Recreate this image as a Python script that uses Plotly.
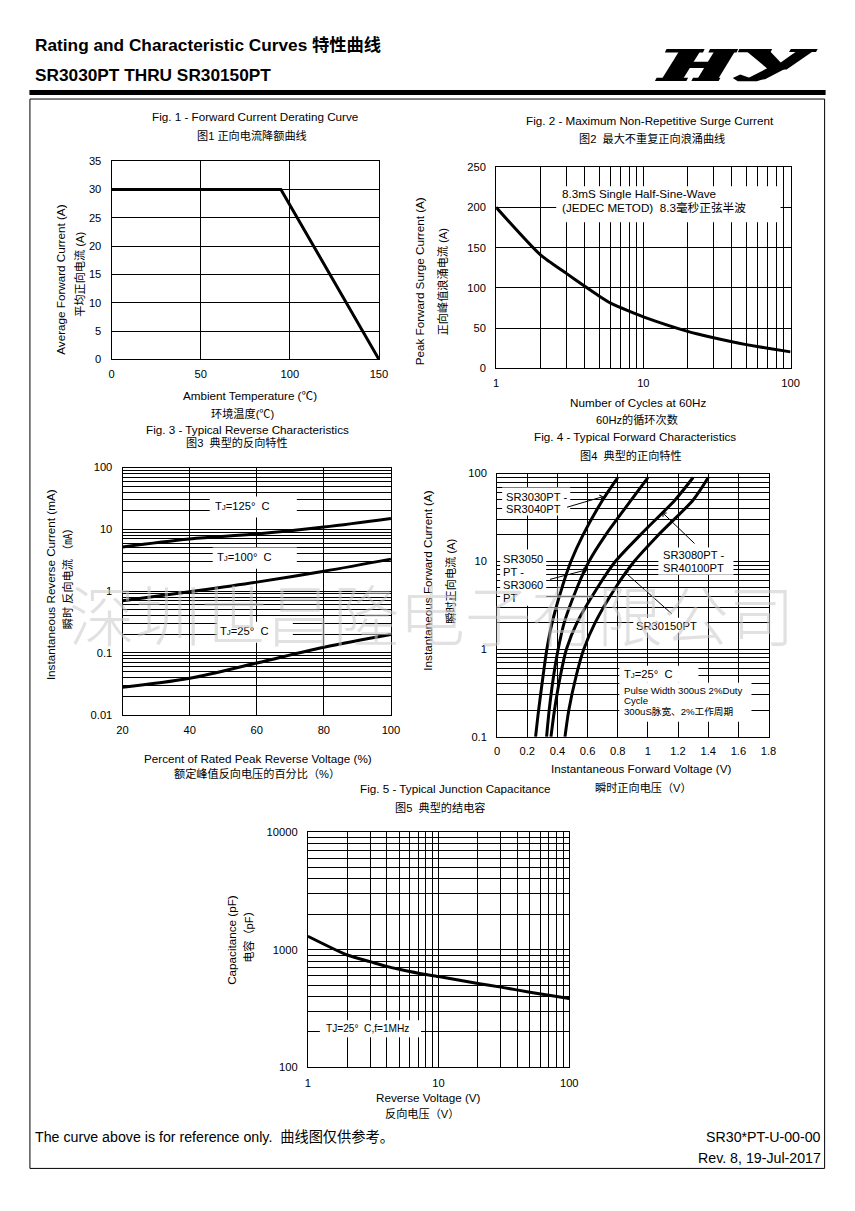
import plotly.graph_objects as go

W, H = 855, 1211

# ---------------- data ----------------
fig1_temp = [0, 95, 150]
fig1_current = [30, 30, 0]

fig2_cycles = [1, 2, 3, 4, 5, 6, 8, 10, 20, 30, 40, 50, 70, 100]
fig2_surge = [200, 141, 118, 102, 90, 81, 71, 64, 46, 38, 33, 29.5, 25, 20.5]

fig3_percent = [20, 40, 60, 80, 100]
fig3_tj125 = [5.2, 7.0, 8.4, 10.9, 15.0]
fig3_tj100 = [0.70, 0.98, 1.4, 2.1, 3.3]
fig3_tj25 = [0.028, 0.039, 0.069, 0.124, 0.20]

fig4_current = [0.1, 0.2, 0.5, 1, 2, 5, 10, 20, 50, 90]
fig4_vf_3030 = [0.255, 0.275, 0.305, 0.33, 0.365, 0.43, 0.49, 0.57, 0.70, 0.80]
fig4_vf_3050 = [0.328, 0.345, 0.375, 0.405, 0.445, 0.53, 0.61, 0.72, 0.89, 1.00]
fig4_vf_3080 = [0.357, 0.38, 0.42, 0.46, 0.53, 0.665, 0.785, 0.95, 1.18, 1.30]
fig4_vf_30150 = [0.45, 0.475, 0.525, 0.575, 0.65, 0.785, 0.91, 1.07, 1.30, 1.40]

fig5_voltage = [1, 2, 3, 4, 5, 7, 10, 20, 30, 50, 70, 100]
fig5_cap = [1300, 900, 790, 720, 680, 630, 590, 515, 480, 435, 410, 385]

fig2_xticks = [1, 10, 100]
fig2_xlabels = ["1", "10", "100"]
fig3_yticks = [0.01, 0.1, 1, 10, 100]
fig3_ylabels = ["0.01", "0.1", "1", "10", "100"]
fig4_yticks = [0.1, 1, 10, 100]
fig4_ylabels = ["0.1", "1", "10", "100"]
fig5_xticks = [1, 10, 100]
fig5_xlabels = ["1", "10", "100"]
fig5_yticks = [100, 1000, 10000]
fig5_ylabels = ["100", "1000", "10000"]


def minor_log(lo, hi):
    vals = []
    for d in range(lo, hi):
        for m in range(2, 10):
            vals.append(m * 10 ** d)
    return vals


# page-placement correction (layout pixel positions of the target page)
KX, OX, KY, OY = 0.981, 6.6, 0.9888, 7.1
FS = 1 / 0.985


def X(p):
    return (p - OX) / KX


def Y(p):
    return (p - OY) / KY


def fs(s):
    return round(s * FS, 2)


EN = "Liberation Sans, Arial, sans-serif"
CJK = "Liberation Sans, Noto Sans CJK SC, sans-serif"

fig = go.Figure()
LW = 3
fig.add_trace(go.Scatter(x=fig1_temp, y=fig1_current, mode="lines",
                         line=dict(color="black", width=LW), xaxis="x", yaxis="y"))
fig.add_trace(go.Scatter(x=fig2_cycles, y=fig2_surge, mode="lines",
                         line=dict(color="black", width=LW, shape="spline", smoothing=0.6),
                         xaxis="x2", yaxis="y2"))
for ser in (fig3_tj125, fig3_tj100, fig3_tj25):
    fig.add_trace(go.Scatter(x=fig3_percent, y=ser, mode="lines",
                             line=dict(color="black", width=LW, shape="spline"),
                             xaxis="x3", yaxis="y3"))
for ser in (fig4_vf_3030, fig4_vf_3050, fig4_vf_3080, fig4_vf_30150):
    fig.add_trace(go.Scatter(x=ser, y=fig4_current, mode="lines",
                             line=dict(color="black", width=LW, shape="spline", smoothing=0.8),
                             xaxis="x4", yaxis="y4"))
fig.add_trace(go.Scatter(x=fig5_voltage, y=fig5_cap, mode="lines",
                         line=dict(color="black", width=LW, shape="spline", smoothing=0.6),
                         xaxis="x5", yaxis="y5"))

# plot areas in page pixels (left, right, top, bottom)
dom = {
    1: (112, 379, 162, 360),
    2: (496, 790, 168, 369),
    3: (123, 391, 468, 715),
    4: (497, 768, 474, 737),
    5: (308, 569, 832, 1067),
}


def xd(i):
    l, r, t, b = dom[i]
    return [X(l) / W, X(r) / W]


def yd(i):
    l, r, t, b = dom[i]
    return [1 - Y(b) / H, 1 - Y(t) / H]


def ax(**kw):
    d = dict(showline=True, linecolor="black", linewidth=1, mirror=True,
             showgrid=True, gridcolor="black", gridwidth=1, zeroline=False,
             ticks="", tickfont=dict(family=EN, size=fs(11), color="black"),
             fixedrange=True)
    d.update(kw)
    return d


MINOR_GRID = dict(showgrid=True, gridcolor="black", gridwidth=1, ticks="")

layout_axes = dict(
    xaxis=ax(domain=xd(1), anchor="y", range=[0, 150], dtick=50, tick0=0, ticklabelstandoff=4),
    yaxis=ax(domain=yd(1), anchor="x", range=[0, 35], dtick=5, tick0=0, ticklabelstandoff=7),
    xaxis2=ax(domain=xd(2), anchor="y2", type="log", range=[0, 2], tickmode="array",
              tickvals=fig2_xticks, ticktext=fig2_xlabels, ticklabelstandoff=4,
              minor=dict(tickmode="array", tickvals=minor_log(0, 2), **MINOR_GRID)),
    yaxis2=ax(domain=yd(2), anchor="x2", range=[0, 250], dtick=50, tick0=0, ticklabelstandoff=7),
    xaxis3=ax(domain=xd(3), anchor="y3", range=[20, 100], dtick=20, tick0=20, ticklabelstandoff=5),
    yaxis3=ax(domain=yd(3), anchor="x3", type="log", range=[-2, 2], tickmode="array",
              tickvals=fig3_yticks, ticktext=fig3_ylabels, ticklabelstandoff=7,
              minor=dict(tickmode="array", tickvals=minor_log(-2, 2), **MINOR_GRID)),
    xaxis4=ax(domain=xd(4), anchor="y4", range=[0, 1.8], dtick=0.2, tick0=0, ticklabelstandoff=4),
    yaxis4=ax(domain=yd(4), anchor="x4", type="log", range=[-1, 2], tickmode="array",
              tickvals=fig4_yticks, ticktext=fig4_ylabels, ticklabelstandoff=7,
              minor=dict(tickmode="array", tickvals=minor_log(-1, 2), **MINOR_GRID)),
    xaxis5=ax(domain=xd(5), anchor="y5", type="log", range=[0, 2], tickmode="array",
              tickvals=fig5_xticks, ticktext=fig5_xlabels, ticklabelstandoff=5,
              minor=dict(tickmode="array", tickvals=minor_log(0, 2), **MINOR_GRID)),
    yaxis5=ax(domain=yd(5), anchor="x5", type="log", range=[2, 4], tickmode="array",
              tickvals=fig5_yticks, ticktext=fig5_ylabels, ticklabelstandoff=7,
              minor=dict(tickmode="array", tickvals=minor_log(2, 4), **MINOR_GRID)),
)

# ---------------- shapes ----------------
shapes = []


def rect(x0, y0, x1, y1, fill=None, line=0, layer="above", lc="black"):
    shapes.append(dict(type="rect", xref="paper", yref="paper",
                       x0=X(x0) / W, x1=X(x1) / W, y0=1 - Y(y1) / H, y1=1 - Y(y0) / H,
                       fillcolor=fill if fill else "rgba(0,0,0,0)",
                       line=dict(width=line, color=lc), layer=layer))


# header bar and page frame
rect(30, 91, 825, 96, fill="black")
rect(30.5, 100, 824, 1168, line=1)

# white label boxes (hide grid lines behind labels)
for b in [(556, 187, 780, 223),
          (210, 497, 297, 518), (213, 548, 297, 569), (217, 622, 293, 643),
          (502, 488, 570, 516), (500, 550, 546, 606), (658, 548, 733, 575),
          (633, 618, 707, 633), (619, 666, 698, 683), (619, 683, 751, 722),
          (320, 1020, 421, 1037)]:
    rect(*b, fill="white")


# logo "HY" drawn as filled polygons (coordinates in a local logo frame)
def logo_pt(zx, zy):
    px = 655 + (zx - 143) * 0.4134
    py = 50 + (zy - 60) * 0.33
    return X(px) / W, 1 - Y(py) / H


logo_polys = [
    # H
    [(170, 60), (262, 60), (258, 71), (166, 71)],
    [(203, 62), (254, 62), (207, 156), (156, 156)],
    [(146, 147), (222, 147), (218, 157), (142, 157)],
    [(275, 60), (343, 60), (339, 71), (271, 71)],
    [(288, 62), (338, 62), (292, 156), (242, 156)],
    [(234, 147), (300, 147), (296, 157), (230, 157)],
    [(186, 99), (315, 99), (306, 118), (177, 118)],
    # Y
    [(346, 60), (425, 60), (421, 70), (342, 70)],
    [(358, 62), (416, 62), (460, 120), (414, 120)],
    [(470, 60), (535, 60), (531, 69), (466, 69)],
    [(490, 62), (530, 62), (460, 122), (422, 122)],
    [(414, 118), (460, 118), (408, 152), (364, 150)],
    [(408, 150), (388, 158), (342, 158), (330, 148), (348, 137), (372, 148)],
]
for poly in logo_polys:
    pts = [logo_pt(*p) for p in poly]
    path = "M " + " L ".join(f"{x:.5f},{y:.5f}" for x, y in pts) + " Z"
    shapes.append(dict(type="path", xref="paper", yref="paper", path=path,
                       fillcolor="black", line=dict(width=0), layer="above"))

# ---------------- annotations ----------------
ann = []


def txt(x, y, s, size=11, anchor="center", angle=0, color="black", family=CJK, bold=False):
    if bold:
        s = "<b>" + s + "</b>"
    ann.append(dict(x=X(x) / W, y=1 - Y(y) / H, xref="paper", yref="paper", text=s,
                    showarrow=False, xanchor=anchor, yanchor="middle", textangle=angle,
                    font=dict(family=family, size=fs(size), color=color), borderpad=0))


def arrow(hx, hy, tx, ty):
    ann.append(dict(x=X(hx) / W, y=1 - Y(hy) / H, xref="paper", yref="paper", text="",
                    showarrow=True, ax=(tx - hx) / KX, ay=(ty - hy) / KY, arrowhead=4,
                    arrowsize=1, arrowwidth=1, arrowcolor="black", standoff=0,
                    startstandoff=0))


TJ = "T<span style='font-size:8px'>J</span>"
TS = 11.5   # english title size
CS = 11     # chinese subtitle size

# header
txt(35, 46, "Rating and Characteristic Curves 特性曲线", size=17, anchor="left", bold=True)
txt(35, 76, "SR3030PT THRU SR30150PT", size=17, anchor="left", bold=True, family=EN)

# Fig 1
txt(255, 117.5, "Fig. 1 - Forward Current Derating Curve", size=TS)
txt(252, 136, "图1 正向电流降额曲线", size=CS)
txt(61, 280, "Average Forward Current (A)", size=TS, angle=-90)
txt(80, 275, "平均正向电流 (A)", size=CS, angle=-90)
txt(250, 396.5, "Ambient Temperature (℃)", size=TS)
txt(243, 414, "环境温度(℃)", size=CS)

# Fig 2
txt(650, 121, "Fig. 2 - Maximum Non-Repetitive Surge Current", size=TS)
txt(652, 139.5, "图2  最大不重复正向浪涌曲线", size=CS)
txt(419, 282, "Peak Forward Surge Current (A)", size=TS, angle=-90)
txt(442, 282, "正向峰值浪涌电流 (A)", size=CS, angle=-90)
txt(561, 194, "8.3mS Single Half-Sine-Wave", size=11.5, anchor="left")
txt(561, 208, "(JEDEC METOD)  8.3毫秒正弦半波", size=11.5, anchor="left")
txt(638, 403, "Number of Cycles at 60Hz", size=TS)
txt(637, 420.5, "60Hz的循环次数", size=CS)

# Fig 3
txt(248, 430, "Fig. 3 - Typical Reverse Characteristics", size=TS)
txt(237, 443, "图3  典型的反向特性", size=CS)
txt(51, 585, "Instantaneous Reverse Current (mA)", size=TS, angle=-90)
txt(68, 576, "瞬时 反向电流 （㎃）", size=CS, angle=-90)
txt(258, 759, "Percent of Rated Peak Reverse Voltage (%)", size=TS)
txt(257, 773.5, "额定峰值反向电压的百分比（%）", size=CS)
txt(243, 506, TJ + "=125°  C", size=11)
txt(245, 557, TJ + "=100°  C", size=11)
txt(244, 631, TJ + "=25°  C", size=11)

# Fig 4
txt(635, 437.5, "Fig. 4 - Typical Forward Characteristics", size=TS)
txt(631, 456, "图4  典型的正向特性", size=CS)
txt(428, 581, "Instantaneous Forward Current (A)", size=TS, angle=-90)
txt(451, 582, "瞬时正向电流 (A)", size=CS, angle=-90)
txt(641, 768.5, "Instantaneous Forward Voltage (V)", size=TS)
txt(643, 788, "瞬时正向电压（V）", size=CS)
txt(505, 497, "SR3030PT -", size=11, anchor="left")
txt(505, 509.5, "SR3040PT", size=11, anchor="left")
for i, s in enumerate(["SR3050", "PT -", "SR3060", "PT"]):
    txt(502, 559 + 13.1 * i, s, size=11, anchor="left")
txt(662, 555, "SR3080PT -", size=11, anchor="left")
txt(662, 568.5, "SR40100PT", size=11, anchor="left")
txt(635, 626, "SR30150PT", size=11, anchor="left")
txt(623, 674.5, TJ + "=25°  C", size=11, anchor="left")
txt(623, 691, "Pulse Width 300uS 2%Duty", size=9.5, anchor="left")
txt(623, 701, "Cycle", size=9.5, anchor="left")
txt(623, 711.5, "300uS脉宽、2%工作周期", size=9.5, anchor="left")
arrow(603, 497, 566, 508)
arrow(587, 570, 549, 580)
arrow(662, 513, 695, 545)
arrow(624, 572, 672, 615)

# Fig 5
txt(455, 788.5, "Fig. 5 - Typical Junction Capacitance", size=TS)
txt(440, 807.5, "图5  典型的结电容", size=CS)
txt(231, 940, "Capacitance (pF)", size=TS, angle=-90)
txt(248, 934, "电容（pF）", size=CS, angle=-90)
txt(428, 1097, "Reverse Voltage (V)", size=TS)
txt(422, 1113, "反向电压（V）", size=CS)
txt(325, 1028, "TJ=25°  C,f=1MHz", size=10, anchor="left")

# footer
txt(35, 1137, "The curve above is for reference only.  曲线图仅供参考。", size=14, anchor="left")
txt(821, 1137, "SR30*PT-U-00-00", size=14, anchor="right", family=EN)
txt(821, 1158, "Rev. 8, 19-Jul-2017", size=14, anchor="right", family=EN)

# watermark
ann.append(dict(x=X(432) / W, y=1 - Y(612) / H, xref="paper", yref="paper",
                text="深圳世昌隆电子有限公司", showarrow=False, xanchor="center", yanchor="middle",
                font=dict(family="Noto Sans CJK SC", size=fs(65), color="rgba(200,200,200,0.55)",
                          weight=300)))

fig.update_layout(
    width=W, height=H, margin=dict(l=0, r=0, t=0, b=0),
    paper_bgcolor="white", plot_bgcolor="white", showlegend=False,
    shapes=shapes, annotations=ann, **layout_axes,
)

fig.write_html(
    "out.html",
    config={"displayModeBar": False},
    post_script="document.body.style.margin='0px';document.documentElement.style.overflow='hidden';",
)
